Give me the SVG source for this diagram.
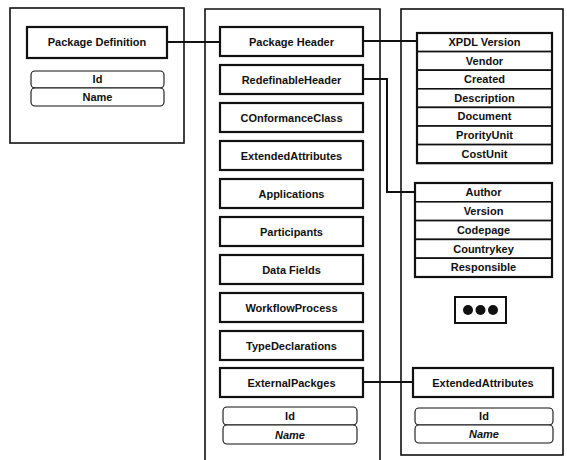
<svg xmlns="http://www.w3.org/2000/svg" width="567" height="460" viewBox="0 0 567 460">
<style>
.cont{fill:none;stroke:#111;stroke-width:1.6}
.box{fill:#fff;stroke:#111;stroke-width:2.2}
.row{fill:#fff;stroke:#111;stroke-width:1.6}
.rnd{fill:#fff;stroke:#111;stroke-width:1.1}
.t{font-family:"Liberation Sans",Arial,sans-serif;font-size:11px;font-weight:bold;fill:#111;text-anchor:middle}
.s{font-size:11px}
.i{font-style:italic}
.con{fill:none;stroke:#111;stroke-width:2}
</style>
<rect width="567" height="460" fill="#fff"/>
<g id="containers">
<rect class="cont" x="10" y="8" width="174" height="135"/>
<path class="cont" d="M205,470 V9 H380 V470"/>
<rect class="cont" x="401" y="9" width="162" height="446"/>
</g>
<g id="connectors">
<path class="con" d="M167,42 H220"/>
<path class="con" d="M363,41 H417"/>
<path class="con" d="M363,79 H387 V192 H415"/>
<path class="con" d="M362,382 H413"/>
</g>
<g id="package-definition">
<rect class="box" x="27" y="27" width="140" height="31"/>
<text class="t" x="97" y="46">Package Definition</text>
</g>
<g id="pd-attrs">
<rect class="rnd" x="31" y="71" width="133" height="17" rx="4"/>
<text class="t s" x="97.5" y="83">Id</text>
<rect class="rnd" x="31" y="88" width="133" height="18" rx="4"/>
<text class="t s" x="97.5" y="101">Name</text>
</g>
<g id="package-header"><rect class="box" x="220" y="27" width="143" height="29"/><text class="t" x="291.5" y="45.5">Package Header</text></g>
<g id="redefinable-header"><rect class="box" x="220" y="65" width="143" height="29"/><text class="t" x="291.5" y="83.5">RedefinableHeader</text></g>
<g id="conformance-class"><rect class="box" x="220" y="103" width="143" height="29"/><text class="t" x="291.5" y="121.5">COnformanceClass</text></g>
<g id="extended-attributes"><rect class="box" x="220" y="141" width="143" height="29"/><text class="t" x="291.5" y="159.5">ExtendedAttributes</text></g>
<g id="applications"><rect class="box" x="220" y="179" width="143" height="29"/><text class="t" x="291.5" y="197.5">Applications</text></g>
<g id="participants"><rect class="box" x="220" y="217" width="143" height="29"/><text class="t" x="291.5" y="235.5">Participants</text></g>
<g id="data-fields"><rect class="box" x="220" y="255" width="143" height="29"/><text class="t" x="291.5" y="273.5">Data Fields</text></g>
<g id="workflow-process"><rect class="box" x="220" y="293" width="143" height="29"/><text class="t" x="291.5" y="311.5">WorkflowProcess</text></g>
<g id="type-declarations"><rect class="box" x="220" y="331" width="143" height="29"/><text class="t" x="291.5" y="349.5">TypeDeclarations</text></g>
<g id="external-packages"><rect class="box" x="220" y="368" width="143" height="29"/><text class="t" x="291.5" y="386.5">ExternalPackges</text></g>
<g id="pkg-attrs">
<rect class="rnd" x="223" y="407" width="134" height="18" rx="4"/>
<text class="t s" x="290" y="420">Id</text>
<rect class="rnd" x="223" y="425" width="134" height="19" rx="4"/>
<text class="t s i" x="290" y="438.5">Name</text>
</g>
<g id="header-fields">
<rect class="row" x="417" y="33" width="135" height="18.6"/><text class="t s" x="484.5" y="46">XPDL Version</text>
<rect class="row" x="417" y="51.6" width="135" height="18.6"/><text class="t s" x="484.5" y="64.6">Vendor</text>
<rect class="row" x="417" y="70.2" width="135" height="18.6"/><text class="t s" x="484.5" y="83.2">Created</text>
<rect class="row" x="417" y="88.8" width="135" height="18.6"/><text class="t s" x="484.5" y="101.8">Description</text>
<rect class="row" x="417" y="107.4" width="135" height="18.6"/><text class="t s" x="484.5" y="120.4">Document</text>
<rect class="row" x="417" y="126" width="135" height="18.6"/><text class="t s" x="484.5" y="139">ProrityUnit</text>
<rect class="row" x="417" y="144.6" width="135" height="18.6"/><text class="t s" x="484.5" y="157.6">CostUnit</text>
<rect x="417" y="33" width="135" height="130.2" fill="none" stroke="#111" stroke-width="2.2"/>
</g>
<g id="redefinable-fields">
<rect class="row" x="415" y="183" width="137" height="18.8"/><text class="t s" x="483.5" y="196.2">Author</text>
<rect class="row" x="415" y="201.8" width="137" height="18.8"/><text class="t s" x="483.5" y="215">Version</text>
<rect class="row" x="415" y="220.6" width="137" height="18.8"/><text class="t s" x="483.5" y="233.8">Codepage</text>
<rect class="row" x="415" y="239.4" width="137" height="18.8"/><text class="t s" x="483.5" y="252.6">Countrykey</text>
<rect class="row" x="415" y="258.2" width="137" height="18.8"/><text class="t s" x="483.5" y="271.4">Responsible</text>
<rect x="415" y="183" width="137" height="94" fill="none" stroke="#111" stroke-width="2.2"/>
</g>
<g id="more">
<rect x="455" y="297" width="51" height="26" fill="#fff" stroke="#111" stroke-width="2"/>
<circle cx="468" cy="310" r="5" fill="#111"/>
<circle cx="480.5" cy="310" r="5" fill="#111"/>
<circle cx="493" cy="310" r="5" fill="#111"/>
</g>
<g id="ext-attrs-right"><rect class="box" x="413" y="368" width="140" height="29"/><text class="t" x="483" y="386.5">ExtendedAttributes</text></g>
<g id="ext-attrs-props">
<rect class="rnd" x="415" y="408" width="138" height="17" rx="4"/>
<text class="t s" x="484" y="420">Id</text>
<rect class="rnd" x="415" y="425" width="138" height="18" rx="4"/>
<text class="t s i" x="484" y="438">Name</text>
</g>
</svg>
